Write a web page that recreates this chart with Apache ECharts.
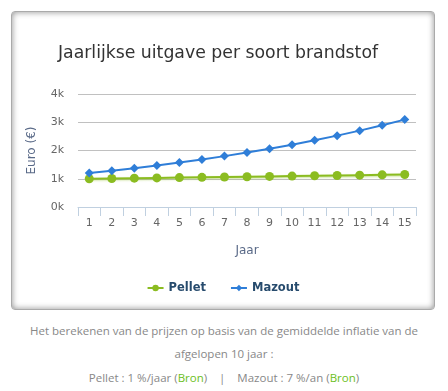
<!DOCTYPE html>
<html>
<head>
<meta charset="utf-8">
<script src="https://cdn.jsdelivr.net/npm/echarts@6/dist/echarts.min.js"></script>
<style>
html,body{margin:0;padding:0;background:#fff;width:448px;height:391px;overflow:hidden;}
#box{position:absolute;left:11px;top:11px;width:422px;height:297px;border:1px solid #aaa;border-radius:4px;box-shadow:inset 0 0 6px rgba(0,0,0,0.45);background:#fff;}
#chart{position:absolute;left:0;top:0;width:422px;height:297px;}
#foot{position:absolute;left:0;top:319px;width:448px;text-align:center;font-family:"Open Sans",sans-serif;font-size:11.5px;line-height:23.3px;color:#888;}
#foot .g{color:#6cc024;}
</style>
</head>
<body>
<div id="box"><div id="chart"></div></div>
<div id="foot">Het berekenen van de prijzen op basis van de gemiddelde inflatie van de<br>afgelopen 10 jaar :<br>Pellet : 1 %/jaar (<span class="g">Bron</span>) &nbsp;&nbsp;&nbsp;| &nbsp;&nbsp;&nbsp;Mazout : 7 %/an (<span class="g">Bron</span>)</div>
<script>
const years = ['1','2','3','4','5','6','7','8','9','10','11','12','13','14','15'];
const pellet = [1000,1010,1020,1030,1041,1051,1062,1072,1083,1094,1105,1116,1127,1138,1149];
const mazout = [1200,1284,1374,1470,1573,1683,1801,1927,2062,2206,2361,2526,2703,2892,3094];
const yTicks = ['0k','1k','2k','3k','4k'];

const chart = echarts.init(document.getElementById('chart'), null, {renderer:'canvas'});
chart.setOption({
  animation:false,
  title:{text:'Jaarlijkse uitgave per soort brandstof',left:201,top:28,textAlign:'center',
    textStyle:{fontFamily:'DejaVu Sans',fontSize:17.3,fontWeight:'normal',color:'#333'}},
  grid:{left:66,right:18,top:82,bottom:102},
  legend:{bottom:10,left:'center',itemWidth:16,itemHeight:8,itemGap:24,
    textStyle:{fontFamily:'DejaVu Sans',fontSize:11.5,fontWeight:'bold',color:'#274b6d'},
    data:['Pellet','Mazout']},
  xAxis:{type:'category',data:years,boundaryGap:true,name:'Jaar',nameLocation:'middle',nameGap:38,
    nameTextStyle:{fontFamily:'DejaVu Sans',fontSize:12,color:'#5a6a88'},
    axisLine:{lineStyle:{color:'#c0d0e0'}},
    axisTick:{show:true,length:9,lineStyle:{color:'#c0d0e0'}},
    axisLabel:{margin:11,fontFamily:'DejaVu Sans',fontSize:11,color:'#666'}},
  yAxis:{type:'value',min:0,max:4000,interval:1000,name:'Euro (€)',nameLocation:'middle',nameGap:40,
    nameTextStyle:{fontFamily:'DejaVu Sans',fontSize:12,color:'#5a6a88'},
    axisLine:{show:false},axisTick:{show:false},
    splitLine:{lineStyle:{color:'#c0c0c0'}},
    axisLabel:{margin:14,fontFamily:'DejaVu Sans',fontSize:11,color:'#666',
      formatter:function(v){return yTicks[Math.round(v/1000)];}}},
  series:[
    {name:'Pellet',type:'line',data:pellet,symbol:'circle',symbolSize:9,
      itemStyle:{color:'#8bbc21'},
      lineStyle:{width:2,color:'#8bbc21',shadowColor:'rgba(139,188,33,0.45)',shadowBlur:2,shadowOffsetY:1}},
    {name:'Mazout',type:'line',data:mazout,symbol:'diamond',symbolSize:9,
      itemStyle:{color:'#2f7ed8'},
      lineStyle:{width:2,color:'#2f7ed8'}}
  ]
});
</script>
</body>
</html>
